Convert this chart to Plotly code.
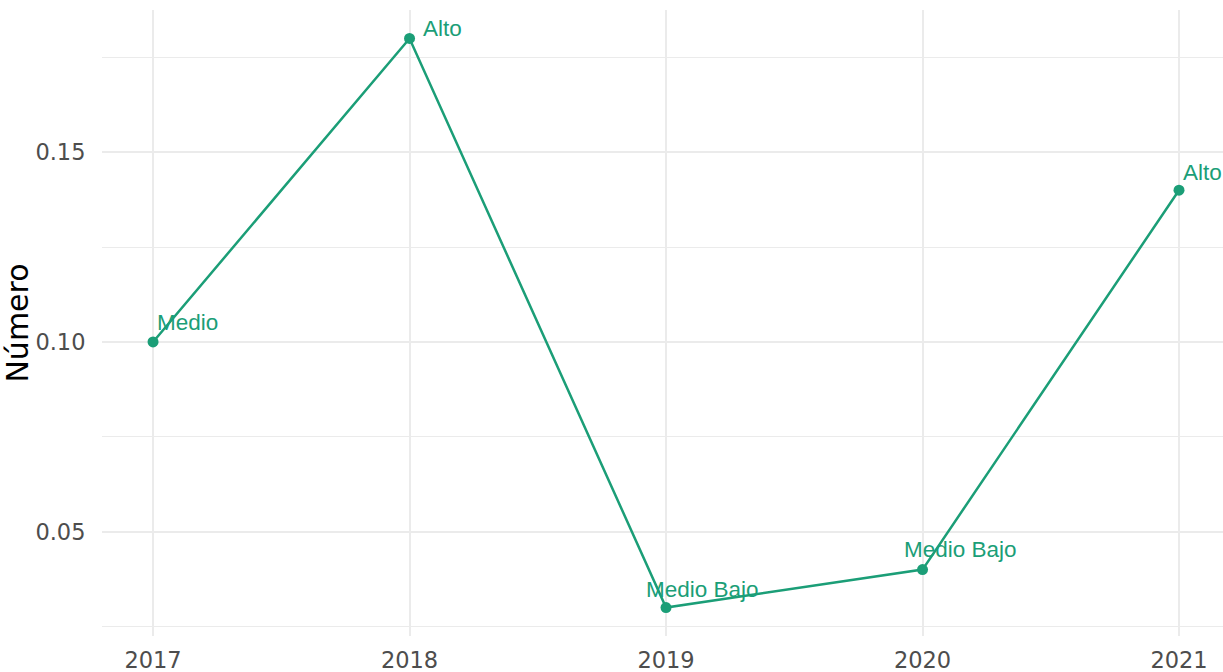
import plotly.graph_objects as go

years = [2017, 2018, 2019, 2020, 2021]
values = [0.10, 0.18, 0.03, 0.04, 0.14]
labels = ["Medio", "Alto", "Medio Bajo", "Medio Bajo", "Alto"]
y_ticks = [0.05, 0.10, 0.15]
y_tick_text = ["0.05", "0.10", "0.15"]

COLOR = "#1B9E77"
label_shift = [(2, 19), (11, 10), (-22, 18), (-21, 20), (2, 18)]

fig = go.Figure()
fig.add_trace(go.Scatter(
    x=years, y=values, mode="lines+markers",
    line=dict(color=COLOR, width=2.5),
    marker=dict(color=COLOR, size=11),
    showlegend=False, hoverinfo="skip",
))

for x, y, t, (dx, dy) in zip(years, values, labels, label_shift):
    fig.add_annotation(
        x=x, y=y, text=t, showarrow=False,
        xanchor="left", yanchor="middle", xshift=dx, yshift=dy,
        font=dict(family="Liberation Sans, Arial, sans-serif", size=22.5, color=COLOR),
    )

fig.update_layout(
    width=1223, height=672,
    margin=dict(l=102, r=0, t=10, b=36, autoexpand=False),
    paper_bgcolor="white", plot_bgcolor="white",
    font=dict(family="DejaVu Sans", color="#4D4D4D"),
)
fig.update_xaxes(
    range=[2016.801, 2021.1715], tickmode="array", tickvals=years,
    ticktext=[str(v) for v in years],
    showgrid=True, gridcolor="#EBEBEB", gridwidth=2.2, zeroline=False,
    showline=False, ticks="outside", ticklen=4, tickcolor="rgba(0,0,0,0)",
    tickfont=dict(family="DejaVu Sans", size=22.5, color="#4D4D4D"),
)
fig.update_yaxes(
    range=[0.0225, 0.1875], tickmode="array", tickvals=y_ticks, ticktext=y_tick_text,
    showgrid=True, gridcolor="#EBEBEB", gridwidth=2.2, zeroline=False,
    showline=False, ticks="outside", ticklen=11, tickcolor="rgba(0,0,0,0)",
    tickfont=dict(family="DejaVu Sans", size=22.5, color="#4D4D4D"),
    minor=dict(tickmode="linear", tick0=0.025, dtick=0.05, showgrid=True,
               gridcolor="#EBEBEB", gridwidth=1.1, ticks=""),
    title=dict(text="Número", font=dict(family="DejaVu Sans", size=30, color="black"), standoff=0),
)

fig.write_html("out.html", config={"displayModeBar": False},
               post_script="document.body.style.margin='0';")
